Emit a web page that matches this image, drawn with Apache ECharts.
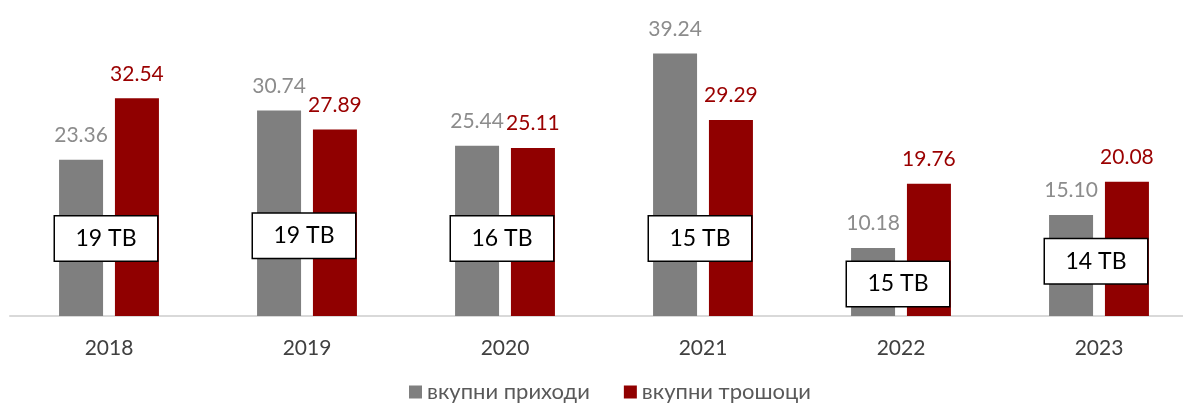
<!DOCTYPE html>
<html>
<head>
<meta charset="utf-8">
<script src="https://cdn.jsdelivr.net/npm/echarts@6/dist/echarts.min.js"></script>
<style>
    html, body { margin: 0; padding: 0; background: #fff; overflow: hidden; }
    #chart { width: 1200px; height: 410px; }
</style>
</head>
<body>
<div id="chart"></div>
<script>
const years    = ["2018", "2019", "2020", "2021", "2022", "2023"]
const income   = [23.36, 30.74, 25.44, 39.24, 10.18, 15.10]
const expenses = [32.54, 27.89, 25.11, 29.29, 19.76, 20.08]
const stations = [19, 19, 16, 15, 15, 14]
// where each "N ТВ" box sits, in axis units
const boxLevel = [11.6, 12.0, 11.6, 11.6, 4.8, 8.2]

const font = "Lato, 'Open Sans', sans-serif"
const grey = "#7f7f7f"
const red  = "#900000"

const chart = echarts.init(document.getElementById("chart"))

const barLabel = color => ({
    show: true,
    position: "top",
    distance: 14,
    color: color,
    fontFamily: font,
    fontSize: 21,
    formatter: p => p.value.toFixed(2),
})

chart.setOption({
    animation: false,
    textStyle: { fontFamily: font },
    grid: { left: 10, top: 15, right: 2, bottom: 94 },
    legend: {
        data: ["вкупни приходи", "вкупни трошоци"],
        bottom: 2,
        left: 404,
        itemWidth: 13,
        itemHeight: 13,
        itemGap: 34,
        icon: "rect",
        textStyle: { color: "#595959", fontSize: 22, fontFamily: font },
    },
    xAxis: {
        type: "category",
        data: years,
        axisLine: { lineStyle: { color: "#d9d9d9", width: 2 } },
        axisTick: { show: false },
        axisLabel: { color: "#404040", fontSize: 21, margin: 22, fontFamily: font },
    },
    yAxis: {
        type: "value",
        min: 0,
        max: 45,
        show: false,
        splitLine: { show: false },
    },
    series: [
        {
            name: "вкупни приходи",
            type: "bar",
            data: income,
            barWidth: 44,
            barGap: "27%",
            itemStyle: { color: grey },
            label: barLabel("#8c8c8c"),
        },
        {
            name: "вкупни трошоци",
            type: "bar",
            data: expenses,
            barWidth: 44,
            itemStyle: { color: red },
            label: barLabel("#9a0000"),
        },
        {
            name: "tv",
            type: "scatter",
            silent: true,
            z: 10,
            symbolSize: 1,
            itemStyle: { color: "rgba(0,0,0,0)", opacity: 1 },
            data: years.map((y, i) => [y, boxLevel[i], stations[i]]),
            label: {
                show: true,
                position: "inside",
                offset: [-3, 0],
                formatter: p => p.value[2] + " ТВ",
                color: "#000",
                fontFamily: font,
                fontSize: 23,
                backgroundColor: "#fff",
                borderColor: "#000",
                borderWidth: 1.5,
                width: 102,
                height: 44,
                lineHeight: 52,
                align: "center",
                verticalAlign: "middle",
            },
        },
    ],
})
</script>
</body>
</html>
